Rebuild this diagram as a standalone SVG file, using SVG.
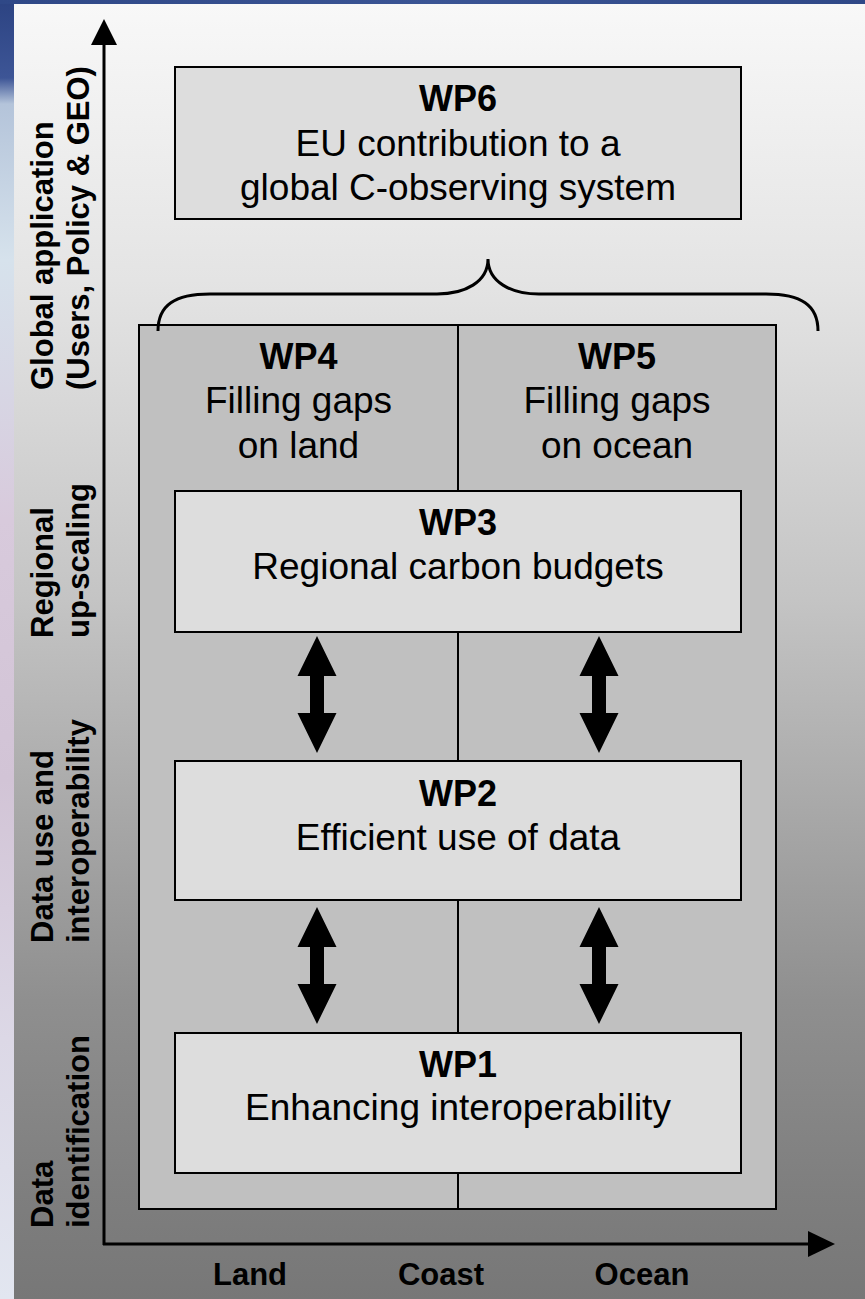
<svg xmlns="http://www.w3.org/2000/svg" width="865" height="1299" viewBox="0 0 865 1299">
  <defs>
    <linearGradient id="bg" x1="0" y1="4" x2="0" y2="1299" gradientUnits="userSpaceOnUse">
      <stop offset="0" stop-color="#f8f8f8"/>
      <stop offset="0.213" stop-color="#e4e4e4"/>
      <stop offset="0.46" stop-color="#c4c4c4"/>
      <stop offset="0.77" stop-color="#8f8f8f"/>
      <stop offset="0.92" stop-color="#7e7e7e"/>
      <stop offset="1" stop-color="#777777"/>
    </linearGradient>
    <linearGradient id="strip" x1="0" y1="0" x2="0" y2="1299" gradientUnits="userSpaceOnUse">
      <stop offset="0" stop-color="#2c4382"/>
      <stop offset="0.06" stop-color="#3d5596"/>
      <stop offset="0.08" stop-color="#b4c4da"/>
      <stop offset="0.2" stop-color="#d6e2ec"/>
      <stop offset="0.4" stop-color="#d8cadc"/>
      <stop offset="0.6" stop-color="#d2c4d6"/>
      <stop offset="0.8" stop-color="#dcd8e6"/>
      <stop offset="1" stop-color="#e2e6f0"/>
    </linearGradient>
    <linearGradient id="topstrip" x1="0" y1="0" x2="865" y2="0" gradientUnits="userSpaceOnUse">
      <stop offset="0" stop-color="#2f4887"/>
      <stop offset="0.5" stop-color="#3a5494"/>
      <stop offset="1" stop-color="#2f4887"/>
    </linearGradient>
  </defs>
  <style>
    .box { fill: #dddddd; stroke: #000; stroke-width: 2; }
    .half { fill: #c0c0c0; stroke: #000; stroke-width: 2; }
    .t { font-family: "Liberation Sans", Arial, sans-serif; font-size: 37px; fill: #000; text-anchor: middle; }
    .h { font-family: "Liberation Sans", Arial, sans-serif; font-size: 36px; font-weight: bold; fill: #000; text-anchor: middle; }
    .lab { font-family: "Liberation Sans", Arial, sans-serif; font-size: 31px; font-weight: bold; fill: #000; }
    .axis { stroke: #000; stroke-width: 3; fill: none; }
    .brace { stroke: #000; stroke-width: 3; fill: none; }
    .dbl { fill: #000; }
  </style>

  <g id="background">
    <rect x="0" y="0" width="865" height="1299" fill="url(#strip)"/>
    <rect x="0" y="0" width="865" height="4" fill="url(#topstrip)"/>
    <rect x="14" y="4" width="851" height="1295" fill="url(#bg)"/>
  </g>

  <g id="axes">
    <line class="axis" x1="104" y1="42" x2="104" y2="1245"/>
    <polygon points="104,19 117,45 91,45" fill="#000"/>
    <line class="axis" x1="103" y1="1244" x2="810" y2="1244"/>
    <polygon points="835,1244 808,1231 808,1257" fill="#000"/>
  </g>

  <g id="axis-labels">
    <text class="lab" transform="translate(53,390) rotate(-90)">Global application</text>
    <text class="lab" transform="translate(89,390) rotate(-90)">(Users, Policy &amp; GEO)</text>
    <text class="lab" transform="translate(53,638) rotate(-90)">Regional</text>
    <text class="lab" transform="translate(89,638) rotate(-90)">up-scaling</text>
    <text class="lab" transform="translate(53,943) rotate(-90)">Data use and</text>
    <text class="lab" transform="translate(89,943) rotate(-90)">interoperability</text>
    <text class="lab" transform="translate(53,1228) rotate(-90)">Data</text>
    <text class="lab" transform="translate(89,1228) rotate(-90)">identification</text>
    <text class="lab" x="250" y="1285" text-anchor="middle">Land</text>
    <text class="lab" x="441" y="1285" text-anchor="middle">Coast</text>
    <text class="lab" x="642" y="1285" text-anchor="middle">Ocean</text>
  </g>

  <g id="wp6">
    <rect class="box" x="175" y="67" width="566" height="152"/>
    <text class="h" x="458" y="111">WP6</text>
    <text class="t" x="458" y="155.5">EU contribution to a</text>
    <text class="t" x="458" y="200">global C-observing system</text>
  </g>

  <g id="wp4">
    <rect class="half" x="139" y="325" width="319" height="884"/>
    <text class="h" x="298.5" y="369">WP4</text>
    <text class="t" x="298.5" y="413">Filling gaps</text>
    <text class="t" x="298.5" y="458">on land</text>
  </g>

  <g id="wp5">
    <rect class="half" x="458" y="325" width="318" height="884"/>
    <text class="h" x="617" y="369">WP5</text>
    <text class="t" x="617" y="413">Filling gaps</text>
    <text class="t" x="617" y="458">on ocean</text>
  </g>

  <g id="wp3">
    <rect class="box" x="175" y="491" width="566" height="141"/>
    <text class="h" x="458" y="535">WP3</text>
    <text class="t" x="458" y="579">Regional carbon budgets</text>
  </g>

  <g id="wp2">
    <rect class="box" x="175" y="761" width="566" height="139"/>
    <text class="h" x="458" y="806">WP2</text>
    <text class="t" x="458" y="849.5">Efficient use of data</text>
  </g>

  <g id="wp1">
    <rect class="box" x="175" y="1033" width="566" height="140"/>
    <text class="h" x="458" y="1077">WP1</text>
    <text class="t" x="458" y="1120">Enhancing interoperability</text>
  </g>

  <g id="connectors">
    <path class="brace" d="M158,331 C158,305 175,294 210,294 L437,294 C465,294 488,282 488,259 C488,282 511,294 539,294 L766,294 C801,294 818,305 818,331"/>
    <polygon class="dbl" points="317,636 336.5,676 324,676 324,713 336.5,713 317,753 297.5,713 310,713 310,676 297.5,676"/>
    <polygon class="dbl" points="599,636 618.5,676 606,676 606,713 618.5,713 599,753 579.5,713 592,713 592,676 579.5,676"/>
    <polygon class="dbl" points="317,907 336.5,947 324,947 324,984 336.5,984 317,1024 297.5,984 310,984 310,947 297.5,947"/>
    <polygon class="dbl" points="599,907 618.5,947 606,947 606,984 618.5,984 599,1024 579.5,984 592,984 592,947 579.5,947"/>
  </g>
</svg>
